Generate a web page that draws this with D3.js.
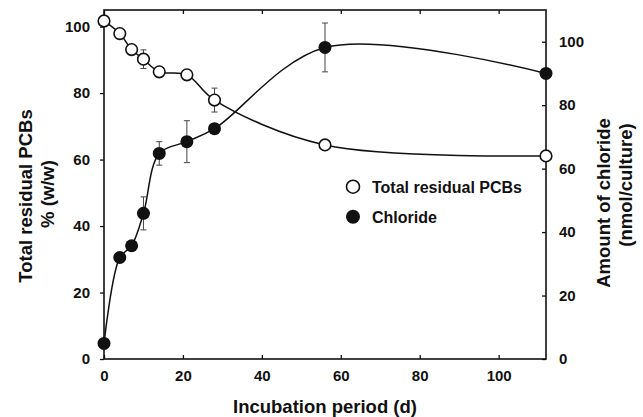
<!DOCTYPE html>
<html><head><meta charset="utf-8">
<script src="https://cdn.jsdelivr.net/npm/d3@7"></script>
<style>
body{margin:0;background:#fff;}
text{font-family:"Liberation Sans",Arial,sans-serif;font-weight:bold;fill:#111;}
</style></head>
<body><svg id="c" width="643" height="417"></svg>
<script>
// Data
const days = [0, 4, 7, 10, 14, 21, 28, 56, 112];
const pcbValues = [101.7, 97.9, 93.1, 90.2, 86.4, 85.5, 77.9, 64.4, 61.1];
const pcbErrors = [0, 0, 0, 2.8, 0, 0, 3.6, 0, 0];
const chlorideValues = [4.9, 32.0, 35.7, 45.9, 64.8, 68.5, 72.6, 98.2, 90.0];
const chlorideErrors = [0, 0, 0, 5.2, 3.7, 6.6, 0, 7.7, 0];
const xTicks = [0, 20, 40, 60, 80, 100];
const leftTicks = [0, 20, 40, 60, 80, 100];
const rightTicks = [0, 20, 40, 60, 80, 100];
const seriesNames = ["Total residual PCBs", "Chloride"];

const svg = d3.select("#c");
const L = 104, R = 546, T = 10, B = 359;
const x = d3.scaleLinear().domain([0, 112]).range([L, R]);
const yL = d3.scaleLinear().domain([0, 105]).range([B, T]);
const yR = d3.scaleLinear().domain([0, 110]).range([B, T]);

function styleAxis(g){
  g.selectAll(".domain").remove();
  g.selectAll(".tick line").attr("stroke","#111").attr("stroke-width",1.3);
  g.selectAll(".tick text").style("font-size","15px").attr("fill","#111");
}
svg.append("g").attr("transform",`translate(0,${B})`)
  .call(d3.axisBottom(x).tickValues(xTicks).tickSizeInner(-4).tickSizeOuter(0).tickPadding(11)).call(styleAxis);
svg.append("g").attr("transform",`translate(0,${T})`)
  .call(d3.axisTop(x).tickValues(xTicks).tickSizeInner(-4).tickSizeOuter(0).tickFormat("")).call(styleAxis);
svg.append("g").attr("transform",`translate(${L},0)`)
  .call(d3.axisLeft(yL).tickValues(leftTicks).tickSizeInner(4).tickSizeOuter(0).tickPadding(10)).call(styleAxis);
svg.append("g").attr("transform",`translate(${R},0)`)
  .call(d3.axisRight(yR).tickValues(rightTicks).tickSizeInner(-4).tickSizeOuter(0).tickPadding(13)).call(styleAxis);

// frame
svg.append("rect").attr("x",L).attr("y",T).attr("width",R-L).attr("height",B-T)
  .attr("fill","none").attr("stroke","#111").attr("stroke-width",1.6);

// curves
const pcb = days.map((d,i)=>({x:d,y:pcbValues[i],e:pcbErrors[i]}));
const chl = days.map((d,i)=>({x:d,y:chlorideValues[i],e:chlorideErrors[i]}));
svg.append("path").datum(pcb).attr("fill","none").attr("stroke","#111").attr("stroke-width",1.5)
  .attr("d", d3.line().x(d=>x(d.x)).y(d=>yL(d.y)).curve(d3.curveCatmullRom.alpha(0.5)));
svg.append("path").datum(chl).attr("fill","none").attr("stroke","#111").attr("stroke-width",1.5)
  .attr("d", d3.line().x(d=>x(d.x)).y(d=>yR(d.y)).curve(d3.curveCatmullRom.alpha(0.5)));

// error bars
function errBars(data, y){
  const g = svg.append("g").attr("stroke","#444").attr("stroke-width",1);
  data.filter(d=>d.e>0).forEach(d=>{
    const cx = x(d.x);
    g.append("line").attr("x1",cx).attr("x2",cx).attr("y1",y(d.y-d.e)).attr("y2",y(d.y+d.e));
    g.append("line").attr("x1",cx-3).attr("x2",cx+3).attr("y1",y(d.y-d.e)).attr("y2",y(d.y-d.e));
    g.append("line").attr("x1",cx-3).attr("x2",cx+3).attr("y1",y(d.y+d.e)).attr("y2",y(d.y+d.e));
  });
}
errBars(pcb, yL);
errBars(chl, yR);

svg.append("g").selectAll("circle").data(pcb).join("circle")
  .attr("cx",d=>x(d.x)).attr("cy",d=>yL(d.y)).attr("r",5.8)
  .attr("fill","#fff").attr("stroke","#111").attr("stroke-width",1.6);
svg.append("g").selectAll("circle").data(chl).join("circle")
  .attr("cx",d=>x(d.x)).attr("cy",d=>yR(d.y)).attr("r",6.5)
  .attr("fill","#111");

// legend
const lg = svg.append("g");
lg.append("circle").attr("cx",353).attr("cy",186.7).attr("r",6.5).attr("fill","#fff").attr("stroke","#111").attr("stroke-width",1.6);
lg.append("circle").attr("cx",353).attr("cy",216.7).attr("r",7).attr("fill","#111");
lg.append("text").attr("x",372).attr("y",192.5).style("font-size","16px").text(seriesNames[0]);
lg.append("text").attr("x",372).attr("y",222.5).style("font-size","16px").text(seriesNames[1]);

// axis titles
svg.append("text").attr("x",325).attr("y",413).attr("text-anchor","middle").style("font-size","18.5px").text("Incubation period (d)");
svg.append("text").attr("transform","translate(32,196) rotate(-90)").attr("text-anchor","middle").style("font-size","18.5px").text("Total residual PCBs");
svg.append("text").attr("transform","translate(54,194) rotate(-90)").attr("text-anchor","middle").style("font-size","18.5px").text("% (w/w)");
svg.append("text").attr("transform","translate(610,203) rotate(-90)").attr("text-anchor","middle").style("font-size","18.5px").text("Amount of chloride");
svg.append("text").attr("transform","translate(632,185) rotate(-90)").attr("text-anchor","middle").style("font-size","18.5px").text("(nmol/culture)");
</script></body></html>
